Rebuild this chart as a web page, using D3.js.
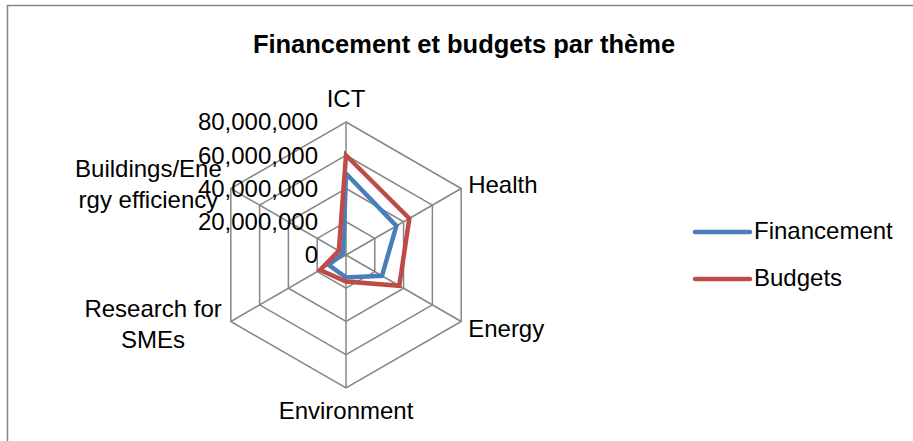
<!DOCTYPE html>
<html>
<head>
<meta charset="utf-8">
<script src="https://cdn.jsdelivr.net/npm/d3@7"></script>
<style>
  body { margin: 0; background: #fff; }
  text { font-family: "Liberation Sans", Arial, sans-serif; fill: #000; }
</style>
</head>
<body>
<div id="chart"></div>
<script>
var categories = ["ICT", "Health", "Energy", "Environment", "Research for SMEs", "Buildings/Energy efficiency"];
var categoryLines = [["ICT"], ["Health"], ["Energy"], ["Environment"], ["Research for", "SMEs"], ["Buildings/Ene", "rgy efficiency"]];
var financement = [49000000, 35000000, 25000000, 13500000, 12000000, 2000000];
var budgets = [60000000, 44000000, 37000000, 16000000, 18000000, 5000000];
var tickValues = [0, 20000000, 40000000, 60000000, 80000000];
var seriesNames = ["Financement", "Budgets"];
var seriesColors = ["#4a7ebb", "#be4b48"];

var w = 913,
    h = 441,
    cx = 346,
    cy = 255,
    radius = 133;

var svg = d3.select("#chart").append("svg")
    .attr("width", w)
    .attr("height", h);

// chart area border (runs off the right / bottom)
svg.append("rect")
    .attr("x", 7.5).attr("y", 5.5)
    .attr("width", 1000).attr("height", 1000)
    .attr("fill", "none")
    .attr("stroke", "#868686")
    .attr("stroke-width", 1.5);

svg.append("text")
    .attr("x", 464).attr("y", 53)
    .attr("text-anchor", "middle")
    .style("font-size", "25.5px")
    .style("font-weight", "bold")
    .text("Financement et budgets par thème");

var r = d3.scaleLinear().domain([0, 80000000]).range([0, radius]);
var angle = d3.scaleLinear().domain([0, categories.length]).range([0, 2 * Math.PI]);

function pt(i, v) {
    var a = angle(i);
    return [cx + r(v) * Math.sin(a), cy - r(v) * Math.cos(a)];
}

var g = svg.append("g");

// rings
g.selectAll("polygon.ring")
    .data(tickValues.slice(1))
    .enter().append("polygon")
    .attr("class", "ring")
    .attr("points", function (v) {
        return categories.map(function (c, i) { return pt(i, v).join(","); }).join(" ");
    })
    .attr("fill", "none")
    .attr("stroke", "#868686")
    .attr("stroke-width", 1.5);

// spokes
g.selectAll("line.spoke")
    .data(categories)
    .enter().append("line")
    .attr("class", "spoke")
    .attr("x1", cx).attr("y1", cy)
    .attr("x2", function (c, i) { return pt(i, 80000000)[0]; })
    .attr("y2", function (c, i) { return pt(i, 80000000)[1]; })
    .attr("stroke", "#868686")
    .attr("stroke-width", 1.5);

// series
var line = d3.lineRadial()
    .angle(function (d, i) { return angle(i); })
    .radius(function (d) { return r(d); })
    .curve(d3.curveLinearClosed);

g.selectAll("path.series")
    .data([financement, budgets])
    .enter().append("path")
    .attr("class", "series")
    .attr("transform", "translate(" + cx + "," + cy + ")")
    .attr("d", line)
    .attr("fill", "none")
    .attr("stroke", function (d, i) { return seriesColors[i]; })
    .attr("stroke-width", 4.5)
    .attr("stroke-linejoin", "miter");

// tick labels
var fmt = d3.format(",");
svg.selectAll("text.tick")
    .data(tickValues)
    .enter().append("text")
    .attr("class", "tick")
    .attr("x", cx - 28)
    .attr("y", function (v) { return cy - r(v); })
    .attr("dy", "0.35em")
    .attr("text-anchor", "end")
    .style("font-size", "24px")
    .text(function (v) { return fmt(v); });

// category labels
categoryLines.forEach(function (lines, i) {
    var p = pt(i, 80000000);
    var t = svg.append("text").style("font-size", "24px");
    var s = Math.sin(angle(i)),
        c = Math.cos(angle(i));
    if (Math.abs(s) < 0.01) {
        t.attr("text-anchor", "middle")
            .attr("x", p[0])
            .attr("y", c > 0 ? p[1] - 15 : p[1] + 31)
            .text(lines[0]);
    } else if (s > 0) {
        t.attr("text-anchor", "start")
            .attr("x", p[0] + 7)
            .attr("y", c > 0 ? p[1] + 4.5 : p[1] + 15.5)
            .text(lines[0]);
    } else {
        t.attr("text-anchor", "middle");
        var lh = 31;
        var y0 = c > 0 ? p[1] - 12 : p[1] - 5;
        lines.forEach(function (l, k) {
            t.append("tspan").attr("y", y0 + k * lh).text(l);
        });
        var maxW = 0;
        t.selectAll("tspan").each(function () {
            maxW = Math.max(maxW, this.getComputedTextLength());
        });
        t.selectAll("tspan").attr("x", p[0] - 9 - maxW / 2);
    }
});

// legend
var legend = svg.selectAll("g.legend")
    .data(seriesNames)
    .enter().append("g")
    .attr("class", "legend")
    .attr("transform", function (d, i) { return "translate(695," + (232 + i * 47) + ")"; });

legend.append("line")
    .attr("x1", 0).attr("x2", 55)
    .attr("stroke", function (d, i) { return seriesColors[i]; })
    .attr("stroke-width", 4.5)
    .attr("stroke-linecap", "round");

legend.append("text")
    .attr("x", 59).attr("y", 7)
    .style("font-size", "24px")
    .text(function (d) { return d; });
</script>
</body>
</html>
